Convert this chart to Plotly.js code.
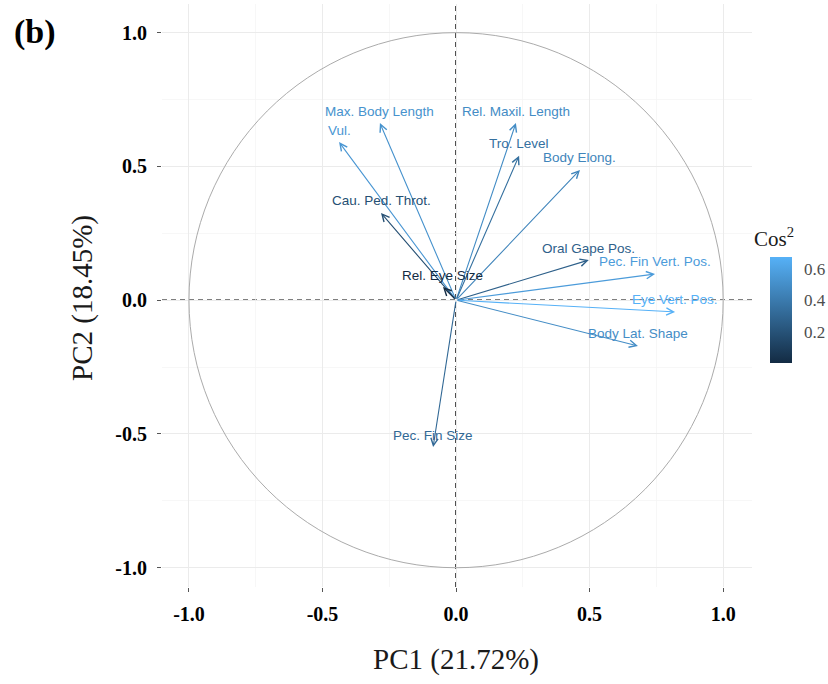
<!DOCTYPE html>
<html>
<head>
<meta charset="utf-8">
<script src="https://cdn.plot.ly/plotly-3.0.1.min.js"></script>
<style>html,body{margin:0;padding:0;background:#fff;}#chart{width:828px;height:684px;}</style>
</head>
<body>
<div id="chart"></div>
<script>
// ---- data ----
var variables = ["Max. Body Length", "Vul.", "Rel. Maxil. Length", "Tro. Level", "Body Elong.",
  "Cau. Ped. Throt.", "Rel. Eye Size", "Oral Gape Pos.", "Pec. Fin Vert. Pos.", "Eye Vert. Pos.",
  "Body Lat. Shape", "Pec. Fin Size"];
var pc1 = [-0.285, -0.438, 0.224, 0.236, 0.464, -0.281, -0.049, 0.497, 0.745, 0.820, 0.681, -0.086];
var pc2 = [0.662, 0.591, 0.662, 0.540, 0.487, 0.326, 0.049, 0.150, 0.098, -0.044, -0.171, -0.549];
var cos2 = [0.519, 0.541, 0.488, 0.348, 0.452, 0.185, 0.005, 0.270, 0.565, 0.674, 0.493, 0.309];
var xTickVals = [-1, -0.5, 0, 0.5, 1];
var xTickText = ["-1.0", "-0.5", "0.0", "0.5", "1.0"];
var yTickVals = [-1, -0.5, 0, 0.5, 1];
var yTickText = ["-1.0", "-0.5", "0.0", "0.5", "1.0"];
var cbTickVals = [0.2, 0.4, 0.6];
var cbTickText = ["0.2", "0.4", "0.6"];

// ---- colours ----
var lowCol = [19, 43, 67], highCol = [86, 177, 247];
var cmin = Math.min.apply(null, cos2), cmax = Math.max.apply(null, cos2);
function colFor(v) {
  var t = (v - cmin) / (cmax - cmin);
  var c = lowCol.map(function (l, i) { return Math.round(l + t * (highCol[i] - l)); });
  return "rgb(" + c.join(",") + ")";
}

var serif = "Liberation Serif, Times New Roman, serif";
var sans = "Liberation Sans, Arial, sans-serif";

var traces = [{
  type: "scatter", mode: "markers", x: pc1, y: pc2,
  marker: {
    color: cos2, colorscale: [[0, "rgb(19,43,67)"], [1, "rgb(86,177,247)"]],
    cmin: cmin, cmax: cmax, opacity: 0, size: 2, showscale: true,
    colorbar: {
      x: 1.0305, xanchor: "left", xref: "paper", y: 0.4751, yanchor: "middle",
      thickness: 22, thicknessmode: "pixels", len: 106, lenmode: "pixels",
      xpad: 0, ypad: 0, outlinewidth: 0,
      tickvals: cbTickVals, ticktext: cbTickText, ticks: "outside", ticklen: 9,
      tickcolor: "rgba(0,0,0,0)", tickwidth: 1,
      tickfont: {family: serif, size: 17, color: "#4d4d4d"}
    }
  },
  hoverinfo: "skip", showlegend: false
}];

var annotations = [];
for (var i = 0; i < variables.length; i++) {
  var col = colFor(cos2[i]);
  annotations.push({
    x: pc1[i], y: pc2[i], xref: "x", yref: "y", ax: 0, ay: 0, axref: "x", ayref: "y",
    text: "", showarrow: true, arrowhead: 5, arrowsize: 1.3, arrowwidth: 1.1, arrowcolor: col
  });
  annotations.push({
    x: pc1[i], y: pc2[i], xref: "x", yref: "y", text: variables[i], showarrow: false,
    yshift: 12, font: {family: sans, size: 13.5, color: col}
  });
}
annotations.push({x: -0.2542, y: 0.952, xref: "paper", yref: "paper", xanchor: "left", yanchor: "middle",
  text: "(b)", showarrow: false, font: {family: serif, size: 34, weight: "bold", color: "#000"}});
annotations.push({x: 0.498, y: -0.125, xref: "paper", yref: "paper", xanchor: "center", yanchor: "middle",
  text: "PC1 (21.72%)", showarrow: false, font: {family: serif, size: 29, color: "#1a1a1a"}});
annotations.push({x: -0.1356, y: 0.4957, xref: "paper", yref: "paper", xanchor: "center", yanchor: "middle",
  text: "PC2 (18.45%)", textangle: -90, showarrow: false, font: {family: serif, size: 29, color: "#1a1a1a"}});
annotations.push({x: 1.0, y: 0.6003, xref: "paper", yref: "paper", xanchor: "left", yanchor: "middle",
  text: "Cos<sup>2</sup>", showarrow: false, font: {family: serif, size: 21, color: "#1a1a1a"}});

var axisCommon = {
  showgrid: true, gridcolor: "#EBEBEB", gridwidth: 1, zeroline: false, showline: false,
  ticks: "outside", ticklen: 4, tickcolor: "#555", tickwidth: 1,
  tickfont: {family: serif, size: 20, weight: "bold", color: "#000"},
  minor: {dtick: 0.25, tick0: 0, showgrid: true, gridcolor: "#F3F3F3", gridwidth: 0.7, ticks: ""}
};

var layout = {
  width: 828, height: 684,
  margin: {l: 162, r: 76, t: 4, b: 97, autoexpand: false},
  paper_bgcolor: "#fff", plot_bgcolor: "#fff",
  hovermode: false, showlegend: false,
  xaxis: Object.assign({}, axisCommon, {range: [-1.101, 1.108], tickmode: "array",
    tickvals: xTickVals, ticktext: xTickText, ticklabelstandoff: 5}),
  yaxis: Object.assign({}, axisCommon, {range: [-1.072, 1.107], tickmode: "array",
    tickvals: yTickVals, ticktext: yTickText, ticklabelstandoff: 6}),
  shapes: [
    {type: "circle", xref: "x", yref: "y", x0: -1, y0: -1, x1: 1, y1: 1,
      line: {color: "#ABABAB", width: 1}, layer: "between"},
    {type: "line", xref: "x", yref: "paper", x0: 0, x1: 0, y0: 0, y1: 1,
      line: {color: "#000", width: 1.5, dash: "5px,4px"}, layer: "between"},
    {type: "line", xref: "paper", yref: "y", x0: 0, x1: 1, y0: 0, y1: 0,
      line: {color: "#000", width: 1.5, dash: "5px,4px"}, layer: "between"}
  ],
  annotations: annotations
};

Plotly.newPlot("chart", traces, layout, {staticPlot: true, displayModeBar: false});
</script>
</body>
</html>
